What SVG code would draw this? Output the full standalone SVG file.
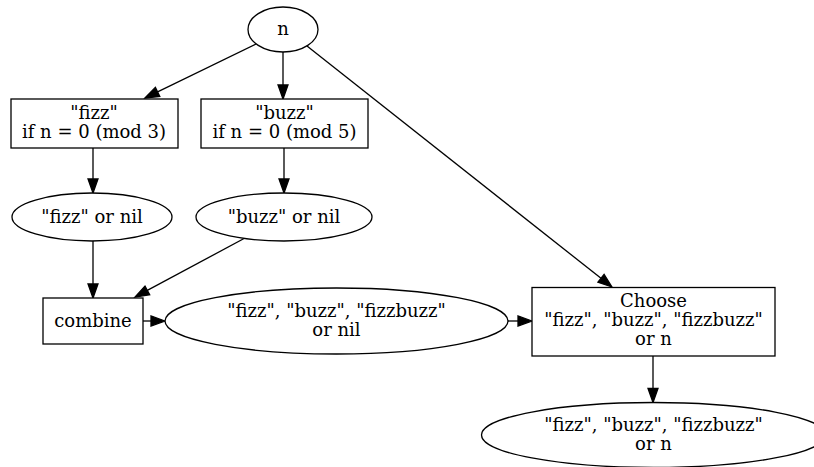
<svg xmlns="http://www.w3.org/2000/svg" width="814" height="467" viewBox="0 0 814 467">
  <style>
    .shape { fill: #ffffff; stroke: #000000; stroke-width: 1.3; }
    .edge { fill: none; stroke: #000000; stroke-width: 1.3; }
    .head { fill: #000000; stroke: #000000; stroke-width: 1.3; }
    text { font-family: "DejaVu Serif", serif; font-size: 18px; fill: #000000; text-anchor: middle; }
  </style>
  <rect width="814" height="467" fill="#ffffff"/>

  <g id="connectors">
    <!-- n -> fizz test -->
    <path class="edge" d="M256,44 L157.6,91.9"/>
    <polygon class="head" points="145,98 159.8,96.4 155.4,87.4"/>
    <!-- n -> buzz test -->
    <path class="edge" d="M283,52 L283,85"/>
    <polygon class="head" points="283,99 278,85 288,85"/>
    <!-- n -> choose -->
    <path class="edge" d="M307,46 L601,278.3"/>
    <polygon class="head" points="612,287 597.9,282.2 604.1,274.4"/>
    <!-- fizz test -> fizz or nil -->
    <path class="edge" d="M93,148 L93,179"/>
    <polygon class="head" points="93,193 88,179 98,179"/>
    <!-- buzz test -> buzz or nil -->
    <path class="edge" d="M284,148 L284,179"/>
    <polygon class="head" points="284,193 279,179 289,179"/>
    <!-- fizz or nil -> combine -->
    <path class="edge" d="M93,241 L93,284"/>
    <polygon class="head" points="93,298 88,284 98,284"/>
    <!-- buzz or nil -> combine -->
    <path class="edge" d="M245,238 L147.3,290.4"/>
    <polygon class="head" points="135,297 149.7,294.8 145,286"/>
    <!-- combine -> combined value -->
    <path class="edge" d="M143,321 L151,321"/>
    <polygon class="head" points="165,321 151,316 151,326"/>
    <!-- combined value -> choose -->
    <path class="edge" d="M508,321 L518,321"/>
    <polygon class="head" points="532,321 518,316 518,326"/>
    <!-- choose -> result -->
    <path class="edge" d="M653,356 L653,388.5"/>
    <polygon class="head" points="653,402.5 648,388.5 658,388.5"/>
  </g>

  <g id="node-n">
    <ellipse class="shape" cx="283" cy="29.5" rx="35" ry="22.5"/>
    <text x="283" y="35">n</text>
  </g>

  <g id="node-fizz-test">
    <rect class="shape" x="11" y="99" width="167" height="49"/>
    <text x="94" y="119">"fizz"</text>
    <text x="94" y="138">if n = 0 (mod 3)</text>
  </g>

  <g id="node-buzz-test">
    <rect class="shape" x="201" y="99" width="167" height="49"/>
    <text x="284.5" y="119">"buzz"</text>
    <text x="284.5" y="138">if n = 0 (mod 5)</text>
  </g>

  <g id="node-fizz-or-nil">
    <ellipse class="shape" cx="92" cy="217" rx="80" ry="24"/>
    <text x="92" y="222.5">"fizz" or nil</text>
  </g>

  <g id="node-buzz-or-nil">
    <ellipse class="shape" cx="284" cy="217" rx="88" ry="24"/>
    <text x="284" y="222.5">"buzz" or nil</text>
  </g>

  <g id="node-combine">
    <rect class="shape" x="43" y="298" width="100" height="46"/>
    <text x="93" y="327">combine</text>
  </g>

  <g id="node-combined">
    <ellipse class="shape" cx="336.5" cy="321" rx="171.5" ry="33"/>
    <text x="336.5" y="316.5">"fizz", "buzz", "fizzbuzz"</text>
    <text x="336.5" y="335.5">or nil</text>
  </g>

  <g id="node-choose">
    <rect class="shape" x="532" y="287.5" width="243" height="68.5"/>
    <text x="653.5" y="307">Choose</text>
    <text x="653.5" y="326">"fizz", "buzz", "fizzbuzz"</text>
    <text x="653.5" y="345">or n</text>
  </g>

  <g id="node-result">
    <ellipse class="shape" cx="653.5" cy="435" rx="172" ry="32.5"/>
    <text x="653.5" y="431">"fizz", "buzz", "fizzbuzz"</text>
    <text x="653.5" y="450">or n</text>
  </g>
</svg>
